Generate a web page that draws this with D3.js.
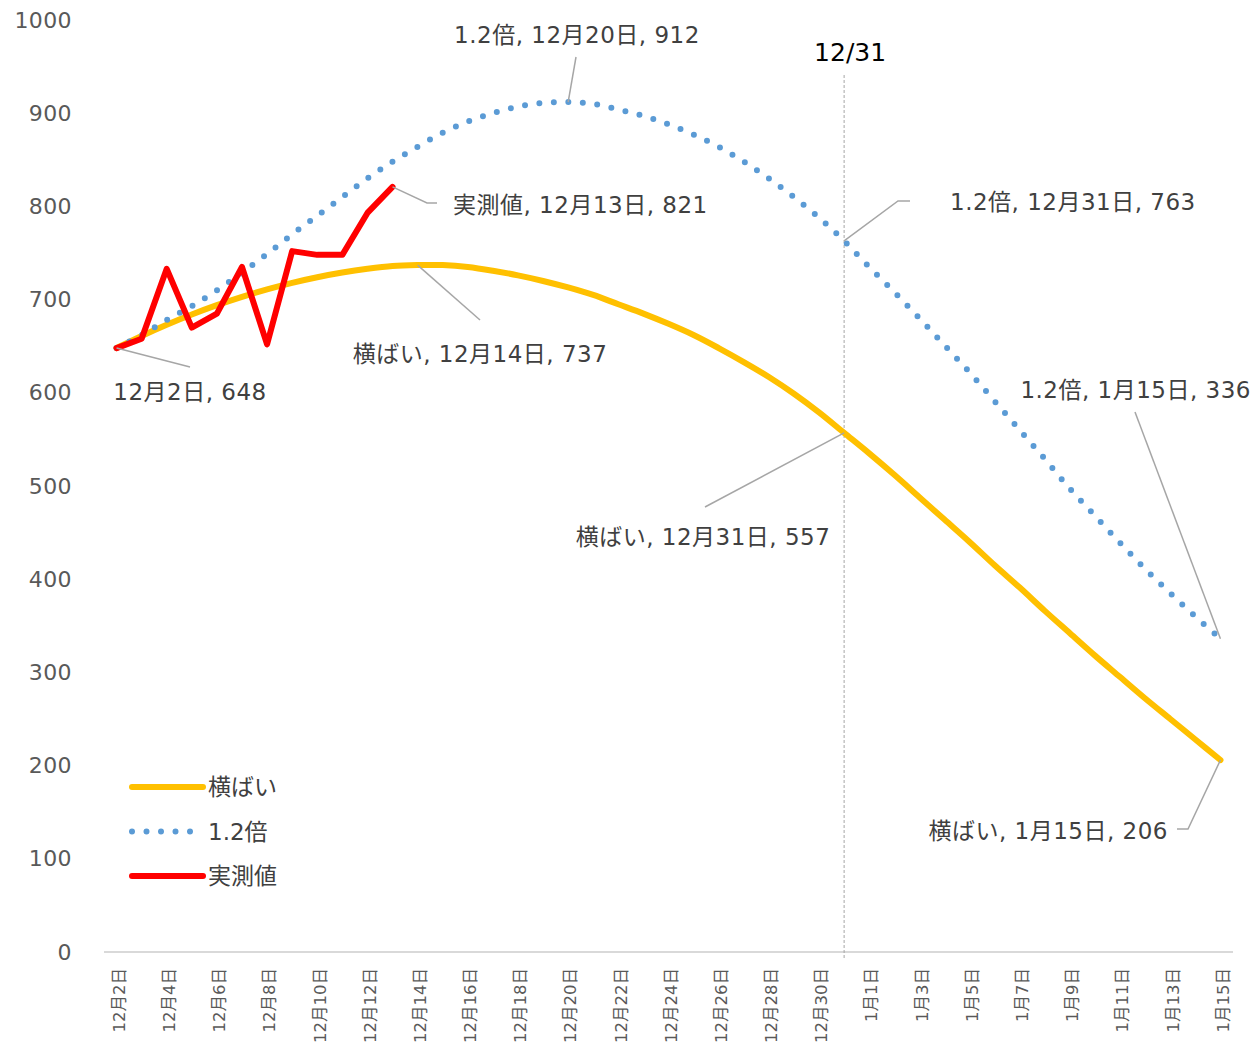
<!DOCTYPE html>
<html>
<head>
<meta charset="utf-8">
<script src="https://cdn.jsdelivr.net/npm/d3@7"></script>
<style>
    body { margin: 0; background: #fff; }
    text { font-family: "DejaVu Sans", "Noto Sans CJK JP", sans-serif; }
</style>
</head>
<body>
<div id="chart"></div>
<script>
// categories
const dates = [
    '12月2日', '12月3日', '12月4日', '12月5日', '12月6日', '12月7日', '12月8日', '12月9日', '12月10日',
    '12月11日', '12月12日', '12月13日', '12月14日', '12月15日', '12月16日', '12月17日', '12月18日',
    '12月19日', '12月20日', '12月21日', '12月22日', '12月23日', '12月24日', '12月25日', '12月26日',
    '12月27日', '12月28日', '12月29日', '12月30日', '12月31日',
    '1月1日', '1月2日', '1月3日', '1月4日', '1月5日', '1月6日', '1月7日', '1月8日', '1月9日',
    '1月10日', '1月11日', '1月12日', '1月13日', '1月14日', '1月15日'
];

// series values
const flat = [ // 横ばい
    648, 661, 673, 684, 694, 703, 711, 718, 724, 729, 733, 736, 737, 737, 735, 731, 726, 720, 713, 705,
    695, 685, 674, 662, 648, 633, 617, 599, 579, 557,
    535, 512, 488, 464, 440, 415, 391, 366, 342, 318, 295, 272, 250, 228, 206
];
const x12 = [ // 1.2倍
    648, 662, 678, 693, 710, 729, 749, 770, 790, 810, 830, 848, 864, 879, 891, 900, 907, 911, 912, 910,
    904, 897, 888, 877, 864, 848, 830, 810, 788, 763,
    735, 708, 680, 651, 622, 591, 560, 529, 497, 468, 439, 411, 385, 360, 336
];
const actual = [648, 658, 733, 670, 685, 735, 652, 752, 748, 748, 793, 821]; // 実測値

const yTicks = [0, 100, 200, 300, 400, 500, 600, 700, 800, 900, 1000];

const seriesNames = ['横ばい', '1.2倍', '実測値'];
const seriesColors = ['#FFC000', '#5B9BD5', '#FF0000'];

// data labels: series index, date, layout of label
const labels = [
    {s: 1, d: '12月20日', tx: 577, ty: 35, anchor: 'middle', path: [[576, 57]]},
    {s: 2, d: '12月13日', tx: 453, ty: 205, anchor: 'start', path: [[427, 203], [437, 203]]},
    {s: 0, d: '12月14日', tx: 480, ty: 354, anchor: 'middle', path: [[480, 320]]},
    {s: -1, d: '12月2日', tx: 190, ty: 392, anchor: 'middle', path: [[190, 367]]},
    {s: 1, d: '12月31日', tx: 950, ty: 202, anchor: 'start', path: [[898, 201], [910, 201]]},
    {s: 0, d: '12月31日', tx: 703, ty: 537, anchor: 'middle', path: [[705, 507]]},
    {s: 1, d: '1月15日', tx: 1251, ty: 390, anchor: 'end', path: [[1135, 412]]},
    {s: 0, d: '1月15日', tx: 1168, ty: 831, anchor: 'end', path: [[1188, 829], [1177, 829]]}
];

const width = 1258;
const height = 1045;
const margin = {top: 20, right: 25, bottom: 93, left: 104};

const svg = d3.select('#chart')
    .append('svg')
        .attr('width', width)
        .attr('height', height);

const x = d3.scalePoint()
    .domain(dates)
    .range([margin.left, width - margin.right])
    .padding(0.5);

const y = d3.scaleLinear()
    .domain([0, 1000])
    .range([height - margin.bottom, margin.top]);

// y labels
svg.append('g')
    .selectAll('text')
    .data(yTicks)
    .join('text')
        .attr('x', 72)
        .attr('y', d => y(d))
        .attr('text-anchor', 'end')
        .attr('dominant-baseline', 'central')
        .attr('fill', '#595959')
        .style('font-size', '22px')
        .style('letter-spacing', '0.4px')
        .text(d => d);

// x axis
const xAxis = svg.append('g')
    .attr('transform', `translate(0, ${y(0)})`)
    .call(d3.axisBottom(x).tickSize(0).tickFormat((d, i) => i % 2 === 0 ? d : ''));
xAxis.select('.domain')
    .attr('stroke', '#d9d9d9')
    .attr('stroke-width', 2)
    .attr('d', `M${margin.left},0H${width - margin.right}`);
xAxis.selectAll('.tick text')
    .attr('transform', 'rotate(-90)')
    .attr('x', -16)
    .attr('y', 2)
    .attr('dy', '0.35em')
    .attr('text-anchor', 'end')
    .attr('fill', '#595959')
    .style('font-size', '16.5px')
    .style('font-family', '"DejaVu Sans", "Noto Sans CJK JP", sans-serif');

// 12/31 marker
svg.append('line')
    .attr('x1', x('12月31日'))
    .attr('x2', x('12月31日'))
    .attr('y1', 75)
    .attr('y2', y(0) + 8)
    .attr('stroke', '#a6a6a6')
    .attr('stroke-width', 1)
    .attr('stroke-dasharray', '3 2');
svg.append('text')
    .attr('x', x('12月31日') + 6)
    .attr('y', 52)
    .attr('text-anchor', 'middle')
    .attr('dominant-baseline', 'central')
    .attr('fill', '#000')
    .style('font-size', '25px')
    .text('12/31');

// lines
const smooth = d3.line()
    .x((d, i) => x(dates[i]))
    .y(d => y(d))
    .curve(d3.curveCatmullRom.alpha(0.5));
const straight = d3.line()
    .x((d, i) => x(dates[i]))
    .y(d => y(d));

svg.append('path')
    .attr('d', smooth(flat))
    .attr('fill', 'none')
    .attr('stroke', seriesColors[0])
    .attr('stroke-width', 6)
    .attr('stroke-linecap', 'round');
svg.append('path')
    .attr('d', smooth(x12))
    .attr('fill', 'none')
    .attr('stroke', seriesColors[1])
    .attr('stroke-width', 6)
    .attr('stroke-linecap', 'round')
    .attr('stroke-dasharray', '0 14.5');
svg.append('path')
    .attr('d', straight(actual))
    .attr('fill', 'none')
    .attr('stroke', seriesColors[2])
    .attr('stroke-width', 6)
    .attr('stroke-linecap', 'round')
    .attr('stroke-linejoin', 'round');

// data labels
const allSeries = [flat, x12, actual];
const labelGroup = svg.append('g');
labels.forEach(l => {
    const i = dates.indexOf(l.d);
    const val = l.s < 0 ? actual[i] : allSeries[l.s][i];
    const pts = [[x(l.d), y(val)], ...l.path];
    labelGroup.append('path')
        .attr('d', d3.line()(pts))
        .attr('fill', 'none')
        .attr('stroke', '#a6a6a6')
        .attr('stroke-width', 1.5);
    labelGroup.append('text')
        .attr('x', l.tx)
        .attr('y', l.ty)
        .attr('text-anchor', l.anchor)
        .attr('dominant-baseline', 'central')
        .attr('fill', '#404040')
        .style('font-size', '23px')
        .style('letter-spacing', '0.5px')
        .text(l.s < 0 ? `${l.d}, ${val}` : `${seriesNames[l.s]}, ${l.d}, ${val}`);
});

// legend
const legend = svg.append('g')
    .selectAll('g')
    .data(seriesNames)
    .join('g')
        .attr('transform', (d, i) => `translate(132, ${787 + i * 44.5})`);
legend.append('line')
    .attr('x1', 0)
    .attr('x2', 71)
    .attr('stroke', (d, i) => seriesColors[i])
    .attr('stroke-width', 6)
    .attr('stroke-linecap', 'round')
    .attr('stroke-dasharray', (d, i) => i === 1 ? '0 14.5' : null);
legend.append('text')
    .attr('x', 76)
    .attr('dominant-baseline', 'central')
    .attr('fill', '#404040')
    .style('font-size', '23px')
    .text(d => d);
</script>
</body>
</html>
